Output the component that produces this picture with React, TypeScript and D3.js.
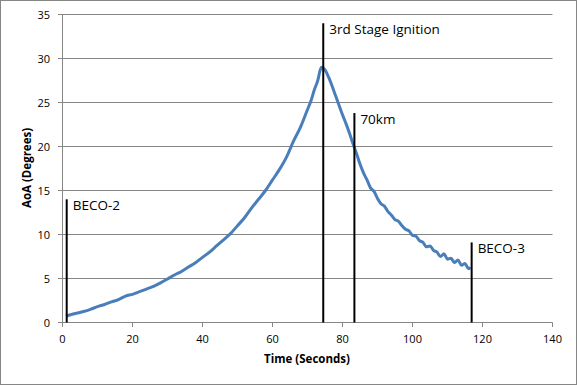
import React from 'react';
import * as d3 from 'd3';

// AoA trace
const times = [1, 2, 4, 6, 8, 10, 12, 14, 16, 18, 20, 22, 24, 26, 28, 30, 32, 34, 36, 38, 40, 42, 44, 46, 48, 50, 52, 54, 56, 58, 60, 62, 64, 66, 68, 70, 71, 72, 73, 73.5, 74, 75, 76, 77, 78, 79, 80, 81, 82, 83, 84, 85, 86, 87, 88, 89, 90, 91, 92, 93, 94, 95, 96, 97, 98, 99, 100, 101, 102, 103, 104, 105, 106, 107, 108, 109, 110, 111, 112, 113, 114, 115, 116, 116.5];
const aoa = [0.7, 0.85, 1.05, 1.25, 1.5, 1.8, 2.05, 2.35, 2.6, 3.0, 3.2, 3.5, 3.8, 4.1, 4.5, 4.95, 5.4, 5.8, 6.3, 6.8, 7.4, 8.0, 8.7, 9.4, 10.1, 11.0, 11.9, 13.0, 14.0, 15.0, 16.2, 17.4, 18.8, 20.6, 22.2, 24.2, 25.2, 26.5, 27.6, 28.5, 29.0, 28.7, 27.9, 26.9, 25.8, 24.7, 23.6, 22.6, 21.5, 20.3, 19.2, 18.0, 17.0, 16.2, 15.3, 14.9, 14.1, 13.5, 13.2, 12.6, 12.2, 11.7, 11.5, 11.0, 10.6, 10.4, 9.9, 9.8, 9.3, 9.1, 8.6, 8.7, 8.2, 8.0, 7.5, 7.8, 7.2, 7.3, 6.8, 7.1, 6.5, 6.7, 6.1, 6.3];

const eventNames = ['BECO-2', '3rd Stage Ignition', '70km', 'BECO-3'];
const eventTimes = [1.2, 74.5, 83.4, 116.9];
const eventHeights = [14.0, 34.0, 23.8, 9.1];

const xTicks = [0, 20, 40, 60, 80, 100, 120, 140];
const yTicks = [0, 5, 10, 15, 20, 25, 30, 35];

const W = 577;
const H = 385;
const font = '"Open Sans", sans-serif';

function App() {
  const x = d3.scaleLinear().domain([0, 140]).range([62.5, 552.5]);
  const y = d3.scaleLinear().domain([0, 35]).range([322.5, 14.5]);

  const line = d3.line<number>()
    .x((_, i) => x(times[i]))
    .y(d => y(d))
    .curve(d3.curveMonotoneX);

  return (
    <svg width={W} height={H} style={{ position: 'absolute', left: 0, top: 0 }}>
      <rect x={0.5} y={0.5} width={W - 1} height={H - 1} fill="#fff" stroke="#868686" />

      {/* gridlines */}
      {yTicks.map(t => (
        <g key={'y' + t}>
          <line x1={58} x2={552.5} y1={y(t)} y2={y(t)} stroke="#868686" />
          <text x={50} y={y(t) + 4} textAnchor="end" fontFamily={font} fontSize={11} fill="#000">{t}</text>
        </g>
      ))}
      <line x1={62.5} x2={62.5} y1={14.5} y2={322.5} stroke="#868686" />

      {xTicks.map(t => (
        <g key={'x' + t}>
          <line x1={x(t)} x2={x(t)} y1={322.5} y2={327} stroke="#868686" />
          <text x={x(t)} y={343} textAnchor="middle" fontFamily={font} fontSize={11} fill="#000">{t}</text>
        </g>
      ))}

      <path d={line(aoa) || ''} fill="none" stroke="#4A7EBB" strokeWidth={3} strokeLinejoin="round" />

      {eventNames.map((n, i) => (
        <g key={n}>
          <line x1={x(eventTimes[i])} x2={x(eventTimes[i])} y1={y(0)} y2={y(eventHeights[i])} stroke="#000" strokeWidth={2} />
          <text x={x(eventTimes[i]) + 6} y={y(eventHeights[i]) + 11} fontFamily={font} fontSize={13.5} fill="#000">{n}</text>
        </g>
      ))}

      <text x={307} y={363} textAnchor="middle" fontFamily={font} fontSize={11.5} fontWeight="bold" fill="#000">Time (Seconds)</text>
      <text transform="translate(31,168) rotate(-90)" textAnchor="middle" fontFamily={font} fontSize={11.5} fontWeight="bold" fill="#000">AoA (Degrees)</text>
    </svg>
  );
}

export default App;
